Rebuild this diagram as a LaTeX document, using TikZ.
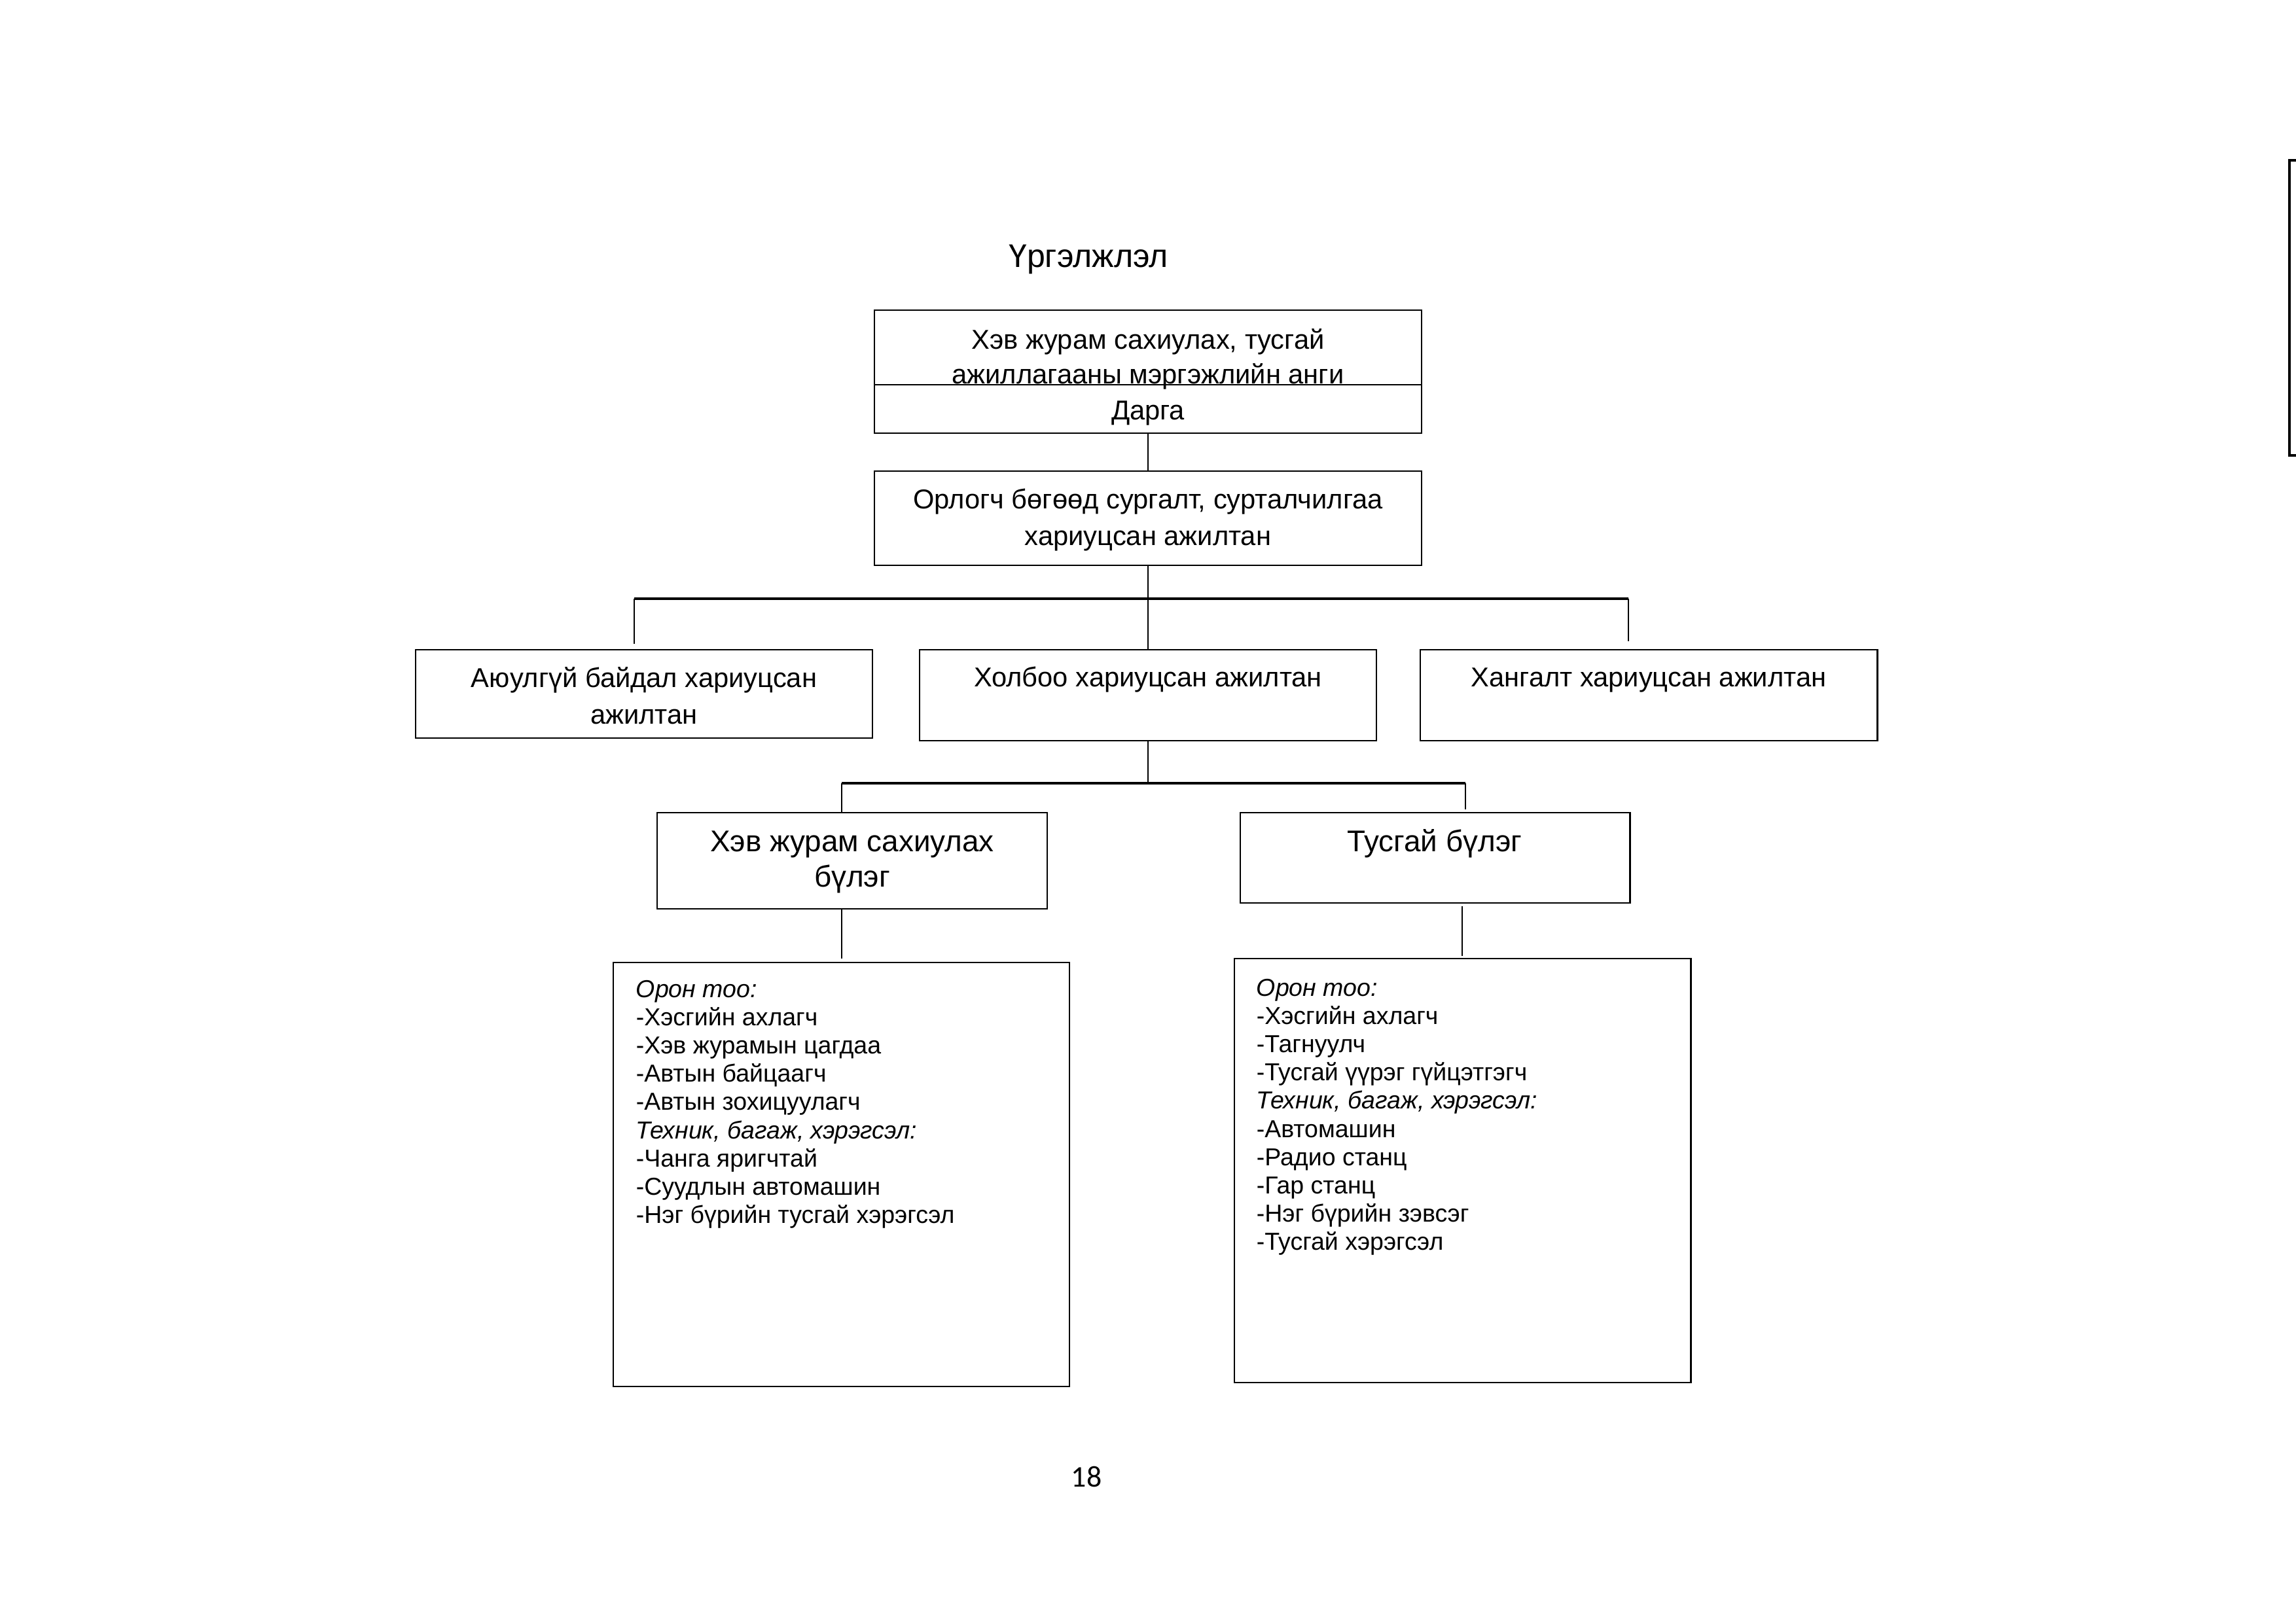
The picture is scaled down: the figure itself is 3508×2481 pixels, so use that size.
\documentclass[tikz,border=0pt]{standalone}
\usepackage{fontspec}
\setmainfont{Liberation Sans}
\newfontfamily\pagefont{Carlito}
\begin{document}
\begin{tikzpicture}[x=0.24pt,y=-0.24pt,
  boxst/.style={draw, line width=0.7pt, inner sep=0pt, outer sep=0pt, anchor=north west},
  conn/.style={line width=0.5pt},
  bar/.style={line width=0.75pt},
  tten/.style={font=\fontsize{10}{13.4}\selectfont, align=center, inner sep=0pt},
  televen/.style={font=\fontsize{11}{12.9}\selectfont, align=center, inner sep=0pt},
  tlist/.style={font=\fontsize{9}{10.37}\selectfont, align=left, inner sep=0pt, anchor=north west}]
\useasboundingbox (0,0) rectangle (3508,2481);
\fill[white] (0,0) rectangle (3508,2481);
% boxes
\node[boxst, minimum width=836*0.24pt, minimum height=114*0.24pt] (unit) at (1336,474) {};
\node[boxst, minimum width=836*0.24pt, minimum height=74*0.24pt] (darga) at (1336,588) {};
\node[boxst, minimum width=836*0.24pt, minimum height=144*0.24pt] (orl) at (1336,720) {};
\node[boxst, minimum width=698*0.24pt, minimum height=135*0.24pt] (safe) at (635,993) {};
\node[boxst, minimum width=698*0.24pt, minimum height=139*0.24pt] (holboo) at (1405,993) {};
\node[boxst, minimum width=698*0.24pt, minimum height=139*0.24pt] (hangalt) at (2170,993) {};
\node[boxst, minimum width=596*0.24pt, minimum height=147*0.24pt] (hev) at (1004,1242) {};
\node[boxst, minimum width=595*0.24pt, minimum height=138*0.24pt] (tusgai) at (1895,1242) {};
\node[boxst, minimum width=697*0.24pt, minimum height=648*0.24pt] (hevlist) at (937,1471) {};
\node[boxst, minimum width=697*0.24pt, minimum height=648*0.24pt] (tuslist) at (1886,1465) {};
% texts
\node[font=\fontsize{12}{14}\selectfont, inner sep=0pt, anchor=mid] (title) at (1663,397) {Үргэлжлэл};
\node[tten, font=\fontsize{10}{12.7}\selectfont, anchor=north] (unittxt) at (1754,502) {Хэв журам сахиулах, тусгай\\ажиллагааны мэргэжлийн анги};
\node[tten, anchor=mid] (dargatxt) at (1754,630) {Дарга};
\node[tten, anchor=north] (orltxt) at (1754,746) {Орлогч бөгөөд сургалт, сурталчилгаа\\хариуцсан ажилтан};
\node[tten, anchor=north] (safetxt) at (984,1019) {Аюулгүй байдал хариуцсан\\ажилтан};
\node[tten, anchor=mid] (holbootxt) at (1754,1038) {Холбоо хариуцсан ажилтан};
\node[tten, anchor=mid] (hangalttxt) at (2519,1038) {Хангалт хариуцсан ажилтан};
\node[televen, anchor=north] (hevtxt) at (1302,1269) {Хэв журам сахиулах\\бүлэг};
\node[televen, anchor=mid] (tusgaitxt) at (2192,1290) {Тусгай бүлэг};
\node[tlist] (hevlisttxt) at (971,1497) {\textit{Орон тоо:}\\-Хэсгийн ахлагч\\-Хэв журамын цагдаа\\-Автын байцаагч\\-Автын зохицуулагч\\\textit{Техник, багаж, хэрэгсэл:}\\-Чанга яригчтай\\-Суудлын автомашин\\-Нэг бүрийн тусгай хэрэгсэл};
\node[tlist] (tuslisttxt) at (1919,1495) {\textit{Орон тоо:}\\-Хэсгийн ахлагч\\-Тагнуулч\\-Тусгай үүрэг гүйцэтгэгч\\\textit{Техник, багаж, хэрэгсэл:}\\-Автомашин\\-Радио станц\\-Гар станц\\-Нэг бүрийн зэвсэг\\-Тусгай хэрэгсэл};
\node[font=\pagefont\fontsize{11}{13}\selectfont, inner sep=0pt, anchor=center] (pagenum) at (1660,2257) {18};
% connectors
\coordinate (bar1l) at (969,915);
\coordinate (bar1r) at (2488,915);
\coordinate (bar1le) at (969,984);
\coordinate (bar1re) at (2488,980);
\coordinate (bar2l) at (1286,1197);
\coordinate (bar2r) at (2239,1197);
\coordinate (bar2re) at (2239,1237);
\coordinate (hevdown) at (1286,1465);
\coordinate (tusup) at (2234,1385);
\coordinate (tusdown) at (2234,1461);
\draw[conn] (darga.south) -- (orl.north);
\draw[conn] (orl.south) -- (orl.south |- bar1l);
\draw[bar] (bar1l) -- (bar1r);
\draw[conn] (bar1l) -- (bar1le);
\draw[conn] (bar1r) -- (bar1re);
\draw[conn] (orl.south |- bar1l) -- (holboo.north);
\draw[conn] (holboo.south) -- (holboo.south |- bar2l);
\draw[bar] (bar2l) -- (bar2r);
\draw[conn] (bar2l) -- (bar2l |- hev.north);
\draw[conn] (bar2r) -- (bar2re);
\draw[conn] (bar2l |- hev.south) -- (hevdown);
\draw[conn] (tusup) -- (tusdown);
% right-edge bracket
\draw[line width=0.8pt] (3508,245) -- (3498,245) -- (3498,696) -- (3508,696);
\end{tikzpicture}
\end{document}
